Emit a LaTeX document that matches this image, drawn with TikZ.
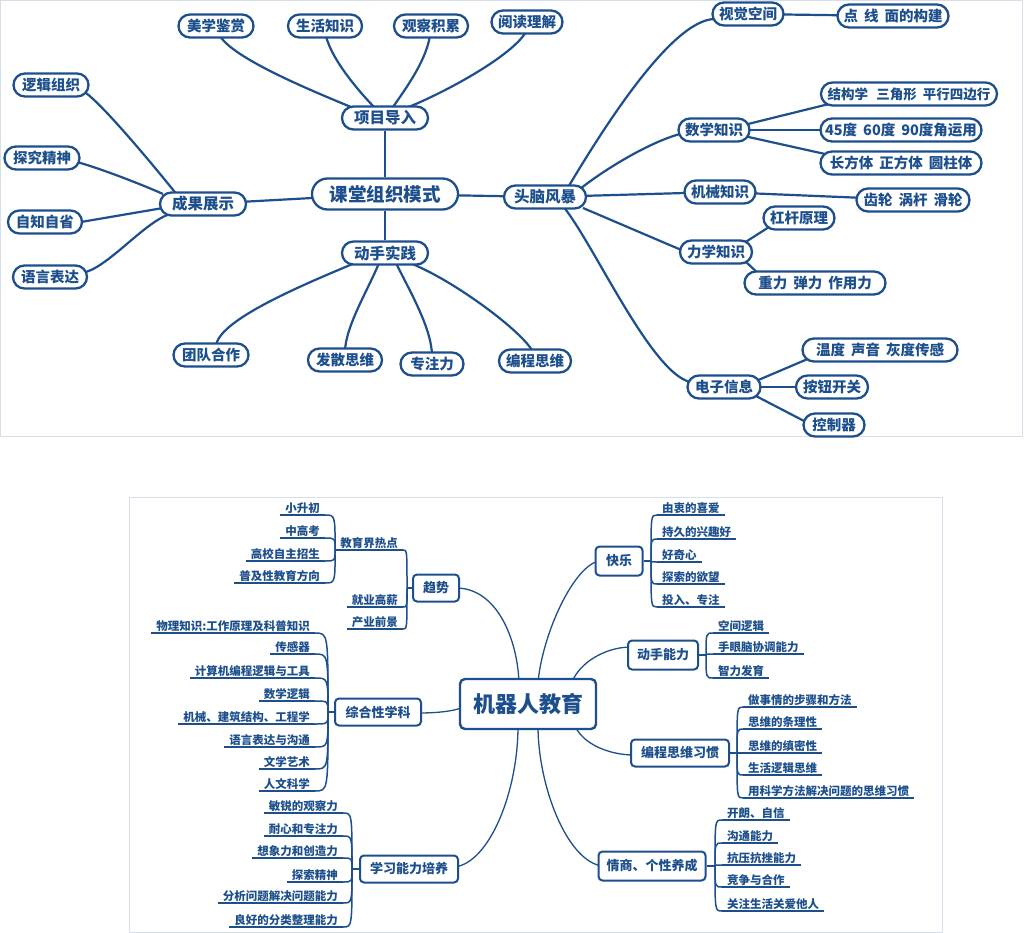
\documentclass[tikz,border=0pt]{standalone}
\usepackage{fontspec}
\setmainfont{Noto Sans CJK SC}
\usetikzlibrary{calc}
\definecolor{mb}{RGB}{29,79,140}
\definecolor{pb}{RGB}{214,223,233}
\pgfdeclarelayer{bg}
\pgfsetlayers{bg,main}
\newcommand\gp{\hspace{6pt}}
\newcommand\leafL[4]{\node[leafl] (#1) at (#2,#3) {#4};\draw[uline] (#1.south west) -- (#1.south east);}
\newcommand\leafR[4]{\node[leafr] (#1) at (#2,#3) {#4};\draw[uline] (#1.south west) -- (#1.south east);}
\newcommand\brk[2]{\draw[brline] let \p1=(#1), \p2=(#2) in (#1) .. controls (\x2,\y1) .. (#2);}
\begin{document}
\begin{tikzpicture}[x=1pt,y=-1pt,
  tn/.style={draw=mb, line width=2.3pt, fill=white, text=mb, font=\bfseries\fontsize{14.5}{15}\selectfont, rounded corners=11.5pt, minimum height=23pt, inner xsep=0pt, inner ysep=0pt},
  tm/.style={tn, font=\bfseries\fontsize{15.5}{16}\selectfont},
  topln/.style={draw=mb, line width=2.2pt},
  bn/.style={draw=mb, line width=2pt, fill=white, text=mb, font=\bfseries\fontsize{13}{14}\selectfont, rounded corners=4pt, inner sep=0pt, minimum height=27pt},
  botln/.style={draw=mb, line width=1.3pt},
  brline/.style={draw=mb, line width=1.5pt},
  uline/.style={draw=mb, line width=1.8pt},
  leaf/.style={text=mb, font=\bfseries\fontsize{11.5}{12}\selectfont, inner xsep=5pt, inner ysep=1.5pt},
  leafl/.style={leaf, anchor=south east},
  leafr/.style={leaf, anchor=south west}]
\useasboundingbox (0,0) rectangle (1024,933);
\begin{pgfonlayer}{bg}
\fill[white] (0,0) rectangle (1024,933);
\draw[pb, line width=1pt] (0.5,0.5) rectangle (1022,436);
\draw[pb, line width=1pt] (129,497) rectangle (942,932);
\end{pgfonlayer}

% ---------- top mind map ----------
\node[tn, minimum width=75pt] (meixue) at (216,26) {美学鉴赏};
\node[tn, minimum width=74pt] (shenghuo) at (325,26) {生活知识};
\node[tn, minimum width=74pt] (guancha) at (431,26) {观察积累};
\node[tn, minimum width=71pt] (yuedu) at (527,22) {阅读理解};
\node[tm, minimum width=86pt] (xiangmu) at (385,118) {项目导入};
\node[tn, minimum width=75pt] (luoji) at (51,85) {逻辑组织};
\node[tn, minimum width=75pt] (tanjiu) at (42,158) {探究精神};
\node[tn, minimum width=74pt] (zizhi) at (45,222) {自知自省};
\node[tn, minimum width=74pt] (yuyan) at (50,277) {语言表达};
\node[tm, minimum width=86pt] (chengguo) at (203,204) {成果展示};
\node[tn, font=\bfseries\fontsize{18.5}{19}\selectfont, minimum width=146pt, minimum height=31pt, rounded corners=15.5pt] (ketang) at (385,194) {课堂组织模式};
\node[tm, minimum width=86pt] (dongshou) at (385,253) {动手实践};
\node[tn, minimum width=75pt] (tuandui) at (211,355) {团队合作};
\node[tn, minimum width=74pt] (fasan) at (345,360) {发散思维};
\node[tn, minimum width=63pt] (zhuanzhu) at (432,364) {专注力};
\node[tn, minimum width=72pt] (bcsw) at (535,361) {编程思维};
\node[tm, minimum width=82pt] (toufeng) at (545,197) {头脑风暴};
\node[tn, minimum width=71pt] (shijue) at (748,14) {视觉空间};
\node[tn, minimum width=111pt] (dianxian) at (893,16) {点\gp 线\gp 面的构建};
\node[tn, minimum width=71pt] (shuxue) at (714,130) {数学知识};
\node[tn, font=\bfseries\fontsize{13.5}{14}\selectfont, minimum width=176pt] (jiegou) at (909,94) {结构学\hspace{5pt} 三角形\hspace{3pt} 平行四边行};
\node[tn, minimum width=161pt] (deg45) at (901,130) {45度\gp 60度\gp 90度角运用};
\node[tn, minimum width=161pt] (changfang) at (901,163) {长方体\gp 正方体\gp 圆柱体};
\node[tn, minimum width=71pt] (jixie) at (720,192) {机械知识};
\node[tn, minimum width=113pt] (chilun) at (913,200) {齿轮\gp 涡杆\gp 滑轮};
\node[tn, minimum width=71pt] (ganggan) at (799,218) {杠杆原理};
\node[tn, minimum width=72pt] (lixue) at (716,252) {力学知识};
\node[tn, minimum width=141pt] (zhongli) at (815,283) {重力\gp 弹力\gp 作用力};
\node[tn, minimum width=155pt] (wendu) at (880,350) {温度\gp 声音\gp 灰度传感};
\node[tn, minimum width=73pt] (dianzi) at (724,387) {电子信息};
\node[tn, minimum width=72pt] (anniu) at (832,387) {按钮开关};
\node[tn, minimum width=61pt] (kongzhi) at (834,425) {控制器};

\begin{pgfonlayer}{bg}
\draw[topln] ($(meixue)+(4,10)$) .. controls +(15,25) and +(-28,-12) .. ($(xiangmu)+(-27,-8)$);
\draw[topln] ($(shenghuo)+(1,10)$) .. controls +(6,25) and +(-15,-15) .. ($(xiangmu)+(-8,-8)$);
\draw[topln] ($(guancha)+(-1,10)$) .. controls +(-5,28) and +(12,-18) .. ($(xiangmu)+(6,-8)$);
\draw[topln] ($(yuedu)+(0,8)$) .. controls +(-12,25) and +(40,-15) .. ($(xiangmu)+(16,-8)$);
\draw[topln] (xiangmu) -- (ketang);
\draw[topln] (ketang) -- (dongshou);
\draw[topln] (ketang.center) -- (chengguo.center);
\draw[topln] (ketang.center) -- (toufeng.center);
\draw[topln] ($(chengguo)+(-25,-8)$) .. controls +(-20,-25) and +(20,15) .. ($(luoji)+(35,8)$);
\draw[topln] ($(tanjiu)+(35,4)$) .. controls +(25,7) and +(-20,-9) .. ($(chengguo)+(-40,-10)$);
\draw[topln] ($(zizhi)+(36,0)$) -- ($(chengguo)+(-40,4)$);
\draw[topln] ($(yuyan)+(36,-5)$) .. controls +(25,-8) and +(-25,8) .. ($(chengguo)+(-33,10)$);
\draw[topln] ($(dongshou)+(-30,10)$) .. controls +(-60,25) and +(0,-25) .. ($(tuandui)+(5,-8)$);
\draw[topln] ($(dongshou)+(-6,10)$) .. controls +(-10,25) and +(0,-25) .. ($(fasan)+(0,-8)$);
\draw[topln] ($(dongshou)+(11,10)$) .. controls +(12,25) and +(0,-28) .. ($(zhuanzhu)+(0,-8)$);
\draw[topln] ($(dongshou)+(25,10)$) .. controls +(45,18) and +(-10,-20) .. ($(bcsw)+(-2,-9)$);
\draw[topln] ($(toufeng)+(22,-8)$) .. controls +(30,-50) and +(-45,0) .. ($(shijue)+(-33,5)$);
\draw[topln] ($(toufeng)+(35,-8)$) .. controls +(25,-20) and +(-30,8) .. ($(shuxue)+(-34,4)$);
\draw[topln] (toufeng.center) -- (jixie.center);
\draw[topln] ($(toufeng)+(38,11)$) -- ($(lixue)+(-30,0)$);
\draw[topln] ($(toufeng)+(17,8)$) .. controls +(30,35) and +(-40,-10) .. ($(dianzi)+(-34,-5)$);
\draw[topln] (shijue.center) -- (dianxian.center);
\draw[topln] ($(shuxue)+(30,-5)$) -- ($(jiegou)+(-80,10)$);
\draw[topln] (shuxue.center) -- (deg45.center);
\draw[topln] ($(shuxue)+(30,6)$) -- ($(changfang)+(-76,-9)$);
\draw[topln] (jixie.center) -- (chilun.center);
\draw[topln] ($(lixue)+(28,-9)$) -- ($(ganggan)+(-30,9)$);
\draw[topln] ($(lixue)+(30,10)$) -- ($(zhongli)+(-55,-8)$);
\draw[topln] ($(dianzi)+(32,-6)$) -- ($(wendu)+(-70,8)$);
\draw[topln] (dianzi.center) -- (anniu.center);
\draw[topln] ($(dianzi)+(30,8)$) -- ($(kongzhi)+(-28,-3)$);
\end{pgfonlayer}

% ---------- bottom mind map ----------
\node[bn, draw=mb, line width=2.4pt, rounded corners=5pt, minimum width=136pt, minimum height=50pt, font=\bfseries\fontsize{22}{23}\selectfont] (jiqiren) at (528,704) {机器人教育};
\node[bn, minimum width=46pt] (qushi) at (436,588) {趋势};
\node[bn, minimum width=86pt] (zonghe) at (378,712) {综合性学科};
\node[bn, minimum width=98pt] (xuexi) at (409,869) {学习能力培养};
\node[bn, minimum width=47pt, minimum height=29pt] (kuaile) at (619,561) {快乐};
\node[bn, minimum width=70pt, minimum height=29pt] (dsnl) at (663,655) {动手能力};
\node[bn, minimum width=98pt] (bcxg) at (680,753) {编程思维习惯};
\node[bn, minimum width=107pt, minimum height=29pt] (qingshang) at (652,866) {情商、个性养成};

\begin{pgfonlayer}{bg}
\draw[botln] ($(jiqiren)+(-9,-22)$) .. controls +(-2,-45) and +(40,0) .. ($(qushi)+(20,0)$);
\draw[botln] ($(jiqiren)+(10,-22)$) .. controls +(5,-50) and +(-25,5) .. ($(kuaile)+(-20,0)$);
\draw[botln] ($(jiqiren)+(44,-22)$) .. controls +(8,-20) and +(-25,0) .. ($(dsnl)+(-32,-8)$);
\draw[botln] ($(jiqiren)+(47,22)$) .. controls +(8,18) and +(-25,0) .. ($(bcxg)+(-46,2)$);
\draw[botln] ($(jiqiren)+(10,22)$) .. controls +(0,60) and +(-35,-5) .. ($(qingshang)+(-50,0)$);
\draw[botln] ($(jiqiren)+(-64,3)$) .. controls +(-12,5) and +(15,0) .. ($(zonghe)+(40,1)$);
\draw[botln] ($(jiqiren)+(-10,22)$) .. controls +(0,65) and +(35,-5) .. ($(xuexi)+(46,-2)$);
\end{pgfonlayer}

% junctions
\coordinate (Jqs) at (407,588);
\coordinate (Jzh) at (328,712);
\coordinate (Jxx) at (352,869);
\coordinate (Jkl) at (651,561);
\coordinate (Jds) at (706,655);
\coordinate (Jbc) at (737,753);
\coordinate (Jqg) at (715,866);
\draw[brline] (qushi) -- (Jqs);
\draw[brline] (zonghe) -- (Jzh);
\draw[brline] (xuexi) -- (Jxx);
\draw[brline] (kuaile) -- (Jkl);
\draw[brline] (dsnl) -- (Jds);
\draw[brline] (bcxg) -- (Jbc);
\draw[brline] (qingshang) -- (Jqg);

% 趋势
\leafL{rd}{403}{550}{教育界热点}
\leafL{jy}{403}{607}{就业高薪}
\leafL{cy}{403}{629}{产业前景}
\brk{rd.south east}{Jqs}\brk{jy.south east}{Jqs}\brk{cy.south east}{Jqs}
\leafL{rdA}{325}{515}{小升初}
\leafL{rdB}{325}{538}{中高考}
\leafL{rdC}{325}{561}{高校自主招生}
\leafL{rdD}{325}{583}{普及性教育方向}
\brk{rdA.south east}{rd.south west}\brk{rdB.south east}{rd.south west}
\brk{rdC.south east}{rd.south west}\brk{rdD.south east}{rd.south west}

% 综合性学科
\leafL{zhA}{315}{633}{物理知识:工作原理及科普知识}
\leafL{zhB}{315}{654}{传感器}
\leafL{zhC}{315}{678}{计算机编程逻辑与工具}
\leafL{zhD}{315}{701}{数学逻辑}
\leafL{zhE}{315}{724}{机械、建筑结构、工程学}
\leafL{zhF}{315}{747}{语言表达与沟通}
\leafL{zhG}{315}{769}{文学艺术}
\leafL{zhH}{315}{791}{人文科学}
\brk{zhA.south east}{Jzh}\brk{zhB.south east}{Jzh}\brk{zhC.south east}{Jzh}\brk{zhD.south east}{Jzh}
\brk{zhE.south east}{Jzh}\brk{zhF.south east}{Jzh}\brk{zhG.south east}{Jzh}\brk{zhH.south east}{Jzh}

% 学习能力培养
\leafL{xxA}{343}{813}{敏锐的观察力}
\leafL{xxB}{343}{836}{耐心和专注力}
\leafL{xxC}{343}{858}{想象力和创造力}
\leafL{xxD}{343}{882}{探索精神}
\leafL{xxE}{343}{903}{分析问题解决问题能力}
\leafL{xxF}{343}{927}{良好的分类整理能力}
\brk{xxA.south east}{Jxx}\brk{xxB.south east}{Jxx}\brk{xxC.south east}{Jxx}
\brk{xxD.south east}{Jxx}\brk{xxE.south east}{Jxx}\brk{xxF.south east}{Jxx}

% 快乐
\leafR{klA}{657}{515}{由衷的喜爱}
\leafR{klB}{657}{539}{持久的兴趣好}
\leafR{klC}{657}{562}{好奇心}
\leafR{klD}{657}{584}{探索的欲望}
\leafR{klE}{657}{607}{投入、专注}
\brk{klA.south west}{Jkl}\brk{klB.south west}{Jkl}\brk{klC.south west}{Jkl}
\brk{klD.south west}{Jkl}\brk{klE.south west}{Jkl}

% 动手能力
\leafR{dsA}{713}{633}{空间逻辑}
\leafR{dsB}{713}{654}{手眼脑协调能力}
\leafR{dsC}{713}{678}{智力发育}
\brk{dsA.south west}{Jds}\brk{dsB.south west}{Jds}\brk{dsC.south west}{Jds}

% 编程思维习惯
\leafR{bcA}{743}{707}{做事情的步骤和方法}
\leafR{bcB}{743}{729}{思维的条理性}
\leafR{bcC}{743}{753}{思维的缜密性}
\leafR{bcD}{743}{775}{生活逻辑思维}
\leafR{bcE}{743}{798}{用科学方法解决问题的思维习惯}
\brk{bcA.south west}{Jbc}\brk{bcB.south west}{Jbc}\brk{bcC.south west}{Jbc}
\brk{bcD.south west}{Jbc}\brk{bcE.south west}{Jbc}

% 情商、个性养成
\leafR{qgA}{722}{820}{开朗、自信}
\leafR{qgB}{722}{843}{沟通能力}
\leafR{qgC}{722}{865}{抗压抗挫能力}
\leafR{qgD}{722}{887}{竞争与合作}
\leafR{qgE}{722}{911}{关注生活关爱他人}
\brk{qgA.south west}{Jqg}\brk{qgB.south west}{Jqg}\brk{qgC.south west}{Jqg}
\brk{qgD.south west}{Jqg}\brk{qgE.south west}{Jqg}
\end{tikzpicture}
\end{document}
